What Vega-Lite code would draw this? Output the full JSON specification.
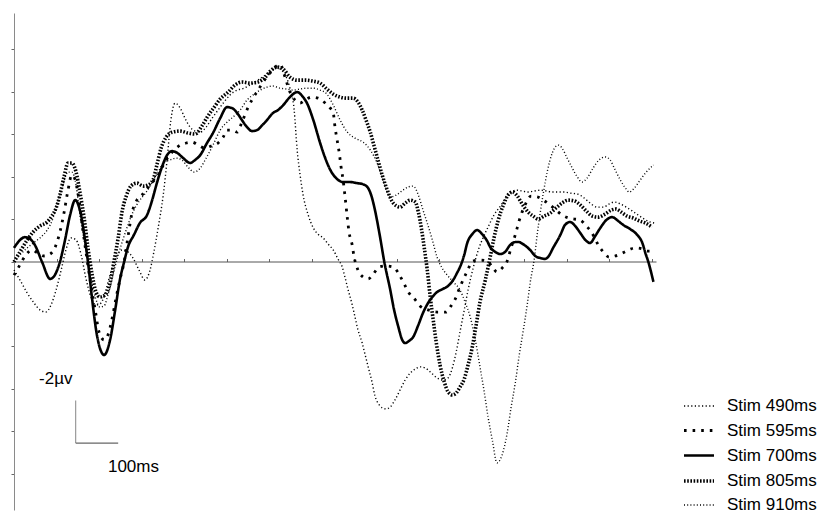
{
  "$schema": "https://vega.github.io/schema/vega-lite/v6.json",
  "width": 642,
  "height": 497,
  "autosize": {"type": "none"},
  "padding": {"left": 14, "top": 13, "right": 163, "bottom": 4},
  "background": "white",
  "config": {
    "view": {"stroke": null},
    "font": "Liberation Sans",
    "text": {"font": "Liberation Sans"}
  },
  "datasets": {
    "curves": [
      {"s":"Stim 700ms","t":0,"v":-0.64},{"s":"Stim 700ms","t":14,"v":-1.01},{"s":"Stim 700ms","t":26,"v":-1.15},{"s":"Stim 700ms","t":38,"v":-1.06},{"s":"Stim 700ms","t":49,"v":-0.78},{"s":"Stim 700ms","t":66,"v":0.02},{"s":"Stim 700ms","t":85,"v":0.82},{"s":"Stim 700ms","t":96,"v":0.64},{"s":"Stim 700ms","t":108,"v":0.02},{"s":"Stim 700ms","t":120,"v":-1.01},{"s":"Stim 700ms","t":132,"v":-2.19},{"s":"Stim 700ms","t":144,"v":-2.89},{"s":"Stim 700ms","t":155,"v":-2.42},{"s":"Stim 700ms","t":167,"v":-1.01},{"s":"Stim 700ms","t":174,"v":0.02},{"s":"Stim 700ms","t":184,"v":1.81},{"s":"Stim 700ms","t":195,"v":3.46},{"s":"Stim 700ms","t":212,"v":4.40},{"s":"Stim 700ms","t":226,"v":3.69},{"s":"Stim 700ms","t":238,"v":2.28},{"s":"Stim 700ms","t":249,"v":0.87},{"s":"Stim 700ms","t":259,"v":0.02},{"s":"Stim 700ms","t":268,"v":-0.68},{"s":"Stim 700ms","t":282,"v":-1.25},{"s":"Stim 700ms","t":296,"v":-1.81},{"s":"Stim 700ms","t":313,"v":-2.19},{"s":"Stim 700ms","t":325,"v":-2.89},{"s":"Stim 700ms","t":336,"v":-3.69},{"s":"Stim 700ms","t":348,"v":-4.45},{"s":"Stim 700ms","t":360,"v":-5.01},{"s":"Stim 700ms","t":372,"v":-5.20},{"s":"Stim 700ms","t":384,"v":-5.11},{"s":"Stim 700ms","t":398,"v":-4.87},{"s":"Stim 700ms","t":414,"v":-4.64},{"s":"Stim 700ms","t":426,"v":-4.78},{"s":"Stim 700ms","t":438,"v":-5.01},{"s":"Stim 700ms","t":454,"v":-5.58},{"s":"Stim 700ms","t":468,"v":-6.05},{"s":"Stim 700ms","t":485,"v":-6.75},{"s":"Stim 700ms","t":501,"v":-7.27},{"s":"Stim 700ms","t":513,"v":-7.22},{"s":"Stim 700ms","t":525,"v":-6.99},{"s":"Stim 700ms","t":536,"v":-6.66},{"s":"Stim 700ms","t":548,"v":-6.33},{"s":"Stim 700ms","t":560,"v":-6.14},{"s":"Stim 700ms","t":572,"v":-6.19},{"s":"Stim 700ms","t":584,"v":-6.42},{"s":"Stim 700ms","t":595,"v":-6.66},{"s":"Stim 700ms","t":609,"v":-6.99},{"s":"Stim 700ms","t":621,"v":-7.13},{"s":"Stim 700ms","t":633,"v":-7.36},{"s":"Stim 700ms","t":649,"v":-7.74},{"s":"Stim 700ms","t":666,"v":-7.98},{"s":"Stim 700ms","t":678,"v":-7.79},{"s":"Stim 700ms","t":689,"v":-7.46},{"s":"Stim 700ms","t":704,"v":-6.66},{"s":"Stim 700ms","t":720,"v":-5.58},{"s":"Stim 700ms","t":732,"v":-4.87},{"s":"Stim 700ms","t":744,"v":-4.31},{"s":"Stim 700ms","t":760,"v":-3.88},{"s":"Stim 700ms","t":774,"v":-3.74},{"s":"Stim 700ms","t":791,"v":-3.74},{"s":"Stim 700ms","t":807,"v":-3.69},{"s":"Stim 700ms","t":819,"v":-3.65},{"s":"Stim 700ms","t":831,"v":-3.51},{"s":"Stim 700ms","t":840,"v":-3.13},{"s":"Stim 700ms","t":849,"v":-2.42},{"s":"Stim 700ms","t":861,"v":-1.15},{"s":"Stim 700ms","t":871,"v":0.02},{"s":"Stim 700ms","t":885,"v":1.34},{"s":"Stim 700ms","t":894,"v":2.28},{"s":"Stim 700ms","t":904,"v":3.08},{"s":"Stim 700ms","t":913,"v":3.69},{"s":"Stim 700ms","t":920,"v":3.84},{"s":"Stim 700ms","t":929,"v":3.74},{"s":"Stim 700ms","t":939,"v":3.55},{"s":"Stim 700ms","t":951,"v":2.99},{"s":"Stim 700ms","t":962,"v":2.42},{"s":"Stim 700ms","t":974,"v":1.95},{"s":"Stim 700ms","t":984,"v":1.67},{"s":"Stim 700ms","t":995,"v":1.44},{"s":"Stim 700ms","t":1009,"v":1.29},{"s":"Stim 700ms","t":1021,"v":1.15},{"s":"Stim 700ms","t":1033,"v":0.87},{"s":"Stim 700ms","t":1042,"v":0.54},{"s":"Stim 700ms","t":1049,"v":0.26},{"s":"Stim 700ms","t":1059,"v":-0.31},{"s":"Stim 700ms","t":1066,"v":-0.87},{"s":"Stim 700ms","t":1078,"v":-1.29},{"s":"Stim 700ms","t":1089,"v":-1.48},{"s":"Stim 700ms","t":1101,"v":-1.29},{"s":"Stim 700ms","t":1113,"v":-0.96},{"s":"Stim 700ms","t":1120,"v":-0.68},{"s":"Stim 700ms","t":1132,"v":-0.45},{"s":"Stim 700ms","t":1144,"v":-0.35},{"s":"Stim 700ms","t":1155,"v":-0.45},{"s":"Stim 700ms","t":1167,"v":-0.78},{"s":"Stim 700ms","t":1179,"v":-0.92},{"s":"Stim 700ms","t":1186,"v":-0.92},{"s":"Stim 700ms","t":1200,"v":-0.78},{"s":"Stim 700ms","t":1214,"v":-0.54},{"s":"Stim 700ms","t":1226,"v":-0.26},{"s":"Stim 700ms","t":1238,"v":-0.16},{"s":"Stim 700ms","t":1249,"v":-0.12},{"s":"Stim 700ms","t":1256,"v":-0.21},{"s":"Stim 700ms","t":1268,"v":-0.64},{"s":"Stim 700ms","t":1285,"v":-1.25},{"s":"Stim 700ms","t":1296,"v":-1.72},{"s":"Stim 700ms","t":1308,"v":-1.86},{"s":"Stim 700ms","t":1320,"v":-1.67},{"s":"Stim 700ms","t":1332,"v":-1.34},{"s":"Stim 700ms","t":1344,"v":-1.01},{"s":"Stim 700ms","t":1355,"v":-0.87},{"s":"Stim 700ms","t":1367,"v":-1.20},{"s":"Stim 700ms","t":1379,"v":-1.58},{"s":"Stim 700ms","t":1393,"v":-1.95},{"s":"Stim 700ms","t":1407,"v":-2.09},{"s":"Stim 700ms","t":1421,"v":-1.91},{"s":"Stim 700ms","t":1433,"v":-1.72},{"s":"Stim 700ms","t":1449,"v":-1.53},{"s":"Stim 700ms","t":1466,"v":-1.25},{"s":"Stim 700ms","t":1478,"v":-0.87},{"s":"Stim 700ms","t":1485,"v":-0.40},{"s":"Stim 700ms","t":1492,"v":0.02},{"s":"Stim 700ms","t":1496,"v":0.31},{"s":"Stim 700ms","t":1504,"v":0.96},

      {"s":"Stim 595ms","t":0,"v":0.64},{"s":"Stim 595ms","t":14,"v":0.16},{"s":"Stim 595ms","t":28,"v":-0.31},{"s":"Stim 595ms","t":42,"v":-0.54},{"s":"Stim 595ms","t":56,"v":-0.40},{"s":"Stim 595ms","t":71,"v":-0.26},{"s":"Stim 595ms","t":85,"v":-0.35},{"s":"Stim 595ms","t":96,"v":-0.64},{"s":"Stim 595ms","t":108,"v":-1.39},{"s":"Stim 595ms","t":118,"v":-2.33},{"s":"Stim 595ms","t":127,"v":-3.36},{"s":"Stim 595ms","t":136,"v":-4.07},{"s":"Stim 595ms","t":144,"v":-3.84},{"s":"Stim 595ms","t":153,"v":-2.89},{"s":"Stim 595ms","t":162,"v":-1.48},{"s":"Stim 595ms","t":172,"v":-0.07},{"s":"Stim 595ms","t":181,"v":1.11},{"s":"Stim 595ms","t":191,"v":2.28},{"s":"Stim 595ms","t":200,"v":3.32},{"s":"Stim 595ms","t":212,"v":3.69},{"s":"Stim 595ms","t":221,"v":3.46},{"s":"Stim 595ms","t":231,"v":2.66},{"s":"Stim 595ms","t":240,"v":1.72},{"s":"Stim 595ms","t":249,"v":0.87},{"s":"Stim 595ms","t":259,"v":0.02},{"s":"Stim 595ms","t":268,"v":-1.15},{"s":"Stim 595ms","t":278,"v":-2.33},{"s":"Stim 595ms","t":289,"v":-2.89},{"s":"Stim 595ms","t":301,"v":-3.13},{"s":"Stim 595ms","t":320,"v":-3.60},{"s":"Stim 595ms","t":339,"v":-4.07},{"s":"Stim 595ms","t":355,"v":-4.68},{"s":"Stim 595ms","t":372,"v":-5.15},{"s":"Stim 595ms","t":388,"v":-5.44},{"s":"Stim 595ms","t":405,"v":-5.58},{"s":"Stim 595ms","t":419,"v":-5.62},{"s":"Stim 595ms","t":433,"v":-5.48},{"s":"Stim 595ms","t":449,"v":-5.34},{"s":"Stim 595ms","t":464,"v":-5.44},{"s":"Stim 595ms","t":480,"v":-5.58},{"s":"Stim 595ms","t":492,"v":-5.86},{"s":"Stim 595ms","t":501,"v":-6.19},{"s":"Stim 595ms","t":513,"v":-6.19},{"s":"Stim 595ms","t":525,"v":-6.09},{"s":"Stim 595ms","t":536,"v":-6.56},{"s":"Stim 595ms","t":551,"v":-7.27},{"s":"Stim 595ms","t":562,"v":-7.69},{"s":"Stim 595ms","t":574,"v":-8.07},{"s":"Stim 595ms","t":586,"v":-8.45},{"s":"Stim 595ms","t":602,"v":-8.87},{"s":"Stim 595ms","t":614,"v":-9.15},{"s":"Stim 595ms","t":626,"v":-9.29},{"s":"Stim 595ms","t":638,"v":-8.64},{"s":"Stim 595ms","t":649,"v":-7.98},{"s":"Stim 595ms","t":661,"v":-7.60},{"s":"Stim 595ms","t":673,"v":-7.46},{"s":"Stim 595ms","t":685,"v":-7.60},{"s":"Stim 595ms","t":699,"v":-7.74},{"s":"Stim 595ms","t":715,"v":-7.69},{"s":"Stim 595ms","t":732,"v":-7.46},{"s":"Stim 595ms","t":744,"v":-7.22},{"s":"Stim 595ms","t":751,"v":-6.99},{"s":"Stim 595ms","t":755,"v":-6.33},{"s":"Stim 595ms","t":760,"v":-5.72},{"s":"Stim 595ms","t":765,"v":-5.11},{"s":"Stim 595ms","t":769,"v":-4.49},{"s":"Stim 595ms","t":774,"v":-3.84},{"s":"Stim 595ms","t":779,"v":-2.99},{"s":"Stim 595ms","t":784,"v":-2.05},{"s":"Stim 595ms","t":788,"v":-1.39},{"s":"Stim 595ms","t":795,"v":-0.82},{"s":"Stim 595ms","t":800,"v":-0.21},{"s":"Stim 595ms","t":809,"v":0.40},{"s":"Stim 595ms","t":821,"v":0.73},{"s":"Stim 595ms","t":833,"v":0.82},{"s":"Stim 595ms","t":845,"v":0.59},{"s":"Stim 595ms","t":859,"v":0.26},{"s":"Stim 595ms","t":875,"v":0.21},{"s":"Stim 595ms","t":892,"v":0.26},{"s":"Stim 595ms","t":904,"v":0.54},{"s":"Stim 595ms","t":913,"v":0.87},{"s":"Stim 595ms","t":929,"v":1.48},{"s":"Stim 595ms","t":944,"v":1.81},{"s":"Stim 595ms","t":955,"v":2.09},{"s":"Stim 595ms","t":974,"v":2.28},{"s":"Stim 595ms","t":995,"v":2.38},{"s":"Stim 595ms","t":1016,"v":2.38},{"s":"Stim 595ms","t":1028,"v":2.09},{"s":"Stim 595ms","t":1038,"v":1.76},{"s":"Stim 595ms","t":1049,"v":1.20},{"s":"Stim 595ms","t":1064,"v":0.54},{"s":"Stim 595ms","t":1080,"v":-0.02},{"s":"Stim 595ms","t":1096,"v":-0.07},{"s":"Stim 595ms","t":1113,"v":-0.02},{"s":"Stim 595ms","t":1125,"v":0.26},{"s":"Stim 595ms","t":1136,"v":0.49},{"s":"Stim 595ms","t":1148,"v":0.31},{"s":"Stim 595ms","t":1160,"v":-0.02},{"s":"Stim 595ms","t":1169,"v":-0.64},{"s":"Stim 595ms","t":1179,"v":-1.25},{"s":"Stim 595ms","t":1188,"v":-1.91},{"s":"Stim 595ms","t":1202,"v":-2.66},{"s":"Stim 595ms","t":1216,"v":-3.08},{"s":"Stim 595ms","t":1231,"v":-3.04},{"s":"Stim 595ms","t":1245,"v":-2.89},{"s":"Stim 595ms","t":1261,"v":-2.66},{"s":"Stim 595ms","t":1275,"v":-2.42},{"s":"Stim 595ms","t":1289,"v":-2.19},{"s":"Stim 595ms","t":1304,"v":-2.05},{"s":"Stim 595ms","t":1318,"v":-2.00},{"s":"Stim 595ms","t":1332,"v":-1.95},{"s":"Stim 595ms","t":1346,"v":-1.67},{"s":"Stim 595ms","t":1358,"v":-1.39},{"s":"Stim 595ms","t":1367,"v":-1.06},{"s":"Stim 595ms","t":1374,"v":-0.78},{"s":"Stim 595ms","t":1386,"v":-0.45},{"s":"Stim 595ms","t":1400,"v":-0.21},{"s":"Stim 595ms","t":1414,"v":-0.26},{"s":"Stim 595ms","t":1431,"v":-0.40},{"s":"Stim 595ms","t":1445,"v":-0.54},{"s":"Stim 595ms","t":1461,"v":-0.64},{"s":"Stim 595ms","t":1478,"v":-0.59},{"s":"Stim 595ms","t":1489,"v":-0.49},{"s":"Stim 595ms","t":1501,"v":-0.49},

      {"s":"Stim 805ms","t":0,"v":0.02},{"s":"Stim 805ms","t":14,"v":-0.45},{"s":"Stim 805ms","t":31,"v":-1.01},{"s":"Stim 805ms","t":45,"v":-1.39},{"s":"Stim 805ms","t":61,"v":-1.67},{"s":"Stim 805ms","t":78,"v":-1.86},{"s":"Stim 805ms","t":89,"v":-2.14},{"s":"Stim 805ms","t":99,"v":-2.52},{"s":"Stim 805ms","t":108,"v":-3.13},{"s":"Stim 805ms","t":118,"v":-4.02},{"s":"Stim 805ms","t":127,"v":-4.64},{"s":"Stim 805ms","t":136,"v":-4.64},{"s":"Stim 805ms","t":146,"v":-4.21},{"s":"Stim 805ms","t":155,"v":-3.27},{"s":"Stim 805ms","t":165,"v":-2.05},{"s":"Stim 805ms","t":174,"v":-0.64},{"s":"Stim 805ms","t":184,"v":0.64},{"s":"Stim 805ms","t":193,"v":1.44},{"s":"Stim 805ms","t":202,"v":1.67},{"s":"Stim 805ms","t":214,"v":1.58},{"s":"Stim 805ms","t":226,"v":1.01},{"s":"Stim 805ms","t":235,"v":0.02},{"s":"Stim 805ms","t":245,"v":-1.11},{"s":"Stim 805ms","t":254,"v":-2.33},{"s":"Stim 805ms","t":264,"v":-3.08},{"s":"Stim 805ms","t":275,"v":-3.55},{"s":"Stim 805ms","t":289,"v":-3.69},{"s":"Stim 805ms","t":304,"v":-3.55},{"s":"Stim 805ms","t":315,"v":-3.60},{"s":"Stim 805ms","t":327,"v":-3.84},{"s":"Stim 805ms","t":336,"v":-4.54},{"s":"Stim 805ms","t":346,"v":-5.34},{"s":"Stim 805ms","t":358,"v":-5.86},{"s":"Stim 805ms","t":372,"v":-6.09},{"s":"Stim 805ms","t":391,"v":-6.14},{"s":"Stim 805ms","t":409,"v":-6.05},{"s":"Stim 805ms","t":426,"v":-6.00},{"s":"Stim 805ms","t":442,"v":-6.38},{"s":"Stim 805ms","t":456,"v":-6.85},{"s":"Stim 805ms","t":471,"v":-7.27},{"s":"Stim 805ms","t":485,"v":-7.65},{"s":"Stim 805ms","t":504,"v":-7.98},{"s":"Stim 805ms","t":520,"v":-8.31},{"s":"Stim 805ms","t":536,"v":-8.45},{"s":"Stim 805ms","t":555,"v":-8.40},{"s":"Stim 805ms","t":574,"v":-8.45},{"s":"Stim 805ms","t":591,"v":-8.68},{"s":"Stim 805ms","t":605,"v":-9.01},{"s":"Stim 805ms","t":619,"v":-9.15},{"s":"Stim 805ms","t":633,"v":-9.06},{"s":"Stim 805ms","t":649,"v":-8.68},{"s":"Stim 805ms","t":666,"v":-8.54},{"s":"Stim 805ms","t":685,"v":-8.54},{"s":"Stim 805ms","t":704,"v":-8.49},{"s":"Stim 805ms","t":720,"v":-8.40},{"s":"Stim 805ms","t":736,"v":-8.12},{"s":"Stim 805ms","t":751,"v":-7.88},{"s":"Stim 805ms","t":767,"v":-7.74},{"s":"Stim 805ms","t":784,"v":-7.69},{"s":"Stim 805ms","t":798,"v":-7.69},{"s":"Stim 805ms","t":809,"v":-7.51},{"s":"Stim 805ms","t":819,"v":-7.13},{"s":"Stim 805ms","t":828,"v":-6.66},{"s":"Stim 805ms","t":838,"v":-6.09},{"s":"Stim 805ms","t":847,"v":-5.44},{"s":"Stim 805ms","t":856,"v":-4.78},{"s":"Stim 805ms","t":866,"v":-4.07},{"s":"Stim 805ms","t":878,"v":-3.36},{"s":"Stim 805ms","t":892,"v":-2.75},{"s":"Stim 805ms","t":908,"v":-2.56},{"s":"Stim 805ms","t":920,"v":-2.75},{"s":"Stim 805ms","t":932,"v":-2.89},{"s":"Stim 805ms","t":944,"v":-2.80},{"s":"Stim 805ms","t":951,"v":-2.33},{"s":"Stim 805ms","t":958,"v":-1.58},{"s":"Stim 805ms","t":965,"v":-0.64},{"s":"Stim 805ms","t":972,"v":0.40},{"s":"Stim 805ms","t":979,"v":1.67},{"s":"Stim 805ms","t":986,"v":2.75},{"s":"Stim 805ms","t":993,"v":3.79},{"s":"Stim 805ms","t":1002,"v":4.87},{"s":"Stim 805ms","t":1012,"v":5.67},{"s":"Stim 805ms","t":1021,"v":6.14},{"s":"Stim 805ms","t":1031,"v":6.28},{"s":"Stim 805ms","t":1040,"v":6.19},{"s":"Stim 805ms","t":1049,"v":5.91},{"s":"Stim 805ms","t":1059,"v":5.53},{"s":"Stim 805ms","t":1068,"v":4.87},{"s":"Stim 805ms","t":1078,"v":4.02},{"s":"Stim 805ms","t":1087,"v":2.99},{"s":"Stim 805ms","t":1096,"v":1.91},{"s":"Stim 805ms","t":1108,"v":0.92},{"s":"Stim 805ms","t":1120,"v":-0.21},{"s":"Stim 805ms","t":1129,"v":-1.11},{"s":"Stim 805ms","t":1139,"v":-1.95},{"s":"Stim 805ms","t":1151,"v":-2.66},{"s":"Stim 805ms","t":1162,"v":-3.13},{"s":"Stim 805ms","t":1172,"v":-3.27},{"s":"Stim 805ms","t":1184,"v":-3.08},{"s":"Stim 805ms","t":1195,"v":-2.71},{"s":"Stim 805ms","t":1209,"v":-2.33},{"s":"Stim 805ms","t":1221,"v":-2.14},{"s":"Stim 805ms","t":1233,"v":-2.00},{"s":"Stim 805ms","t":1247,"v":-2.14},{"s":"Stim 805ms","t":1261,"v":-2.28},{"s":"Stim 805ms","t":1275,"v":-2.52},{"s":"Stim 805ms","t":1289,"v":-2.75},{"s":"Stim 805ms","t":1304,"v":-2.89},{"s":"Stim 805ms","t":1318,"v":-2.85},{"s":"Stim 805ms","t":1332,"v":-2.66},{"s":"Stim 805ms","t":1346,"v":-2.38},{"s":"Stim 805ms","t":1360,"v":-2.14},{"s":"Stim 805ms","t":1374,"v":-2.09},{"s":"Stim 805ms","t":1391,"v":-2.24},{"s":"Stim 805ms","t":1405,"v":-2.42},{"s":"Stim 805ms","t":1416,"v":-2.47},{"s":"Stim 805ms","t":1428,"v":-2.33},{"s":"Stim 805ms","t":1442,"v":-2.14},{"s":"Stim 805ms","t":1456,"v":-2.05},{"s":"Stim 805ms","t":1471,"v":-1.91},{"s":"Stim 805ms","t":1485,"v":-1.81},{"s":"Stim 805ms","t":1501,"v":-1.62},

      {"s":"Stim 490ms","t":0,"v":0.40},{"s":"Stim 490ms","t":14,"v":0.87},{"s":"Stim 490ms","t":31,"v":1.48},{"s":"Stim 490ms","t":47,"v":1.95},{"s":"Stim 490ms","t":61,"v":2.28},{"s":"Stim 490ms","t":75,"v":2.38},{"s":"Stim 490ms","t":87,"v":2.05},{"s":"Stim 490ms","t":99,"v":1.34},{"s":"Stim 490ms","t":111,"v":0.40},{"s":"Stim 490ms","t":122,"v":-0.54},{"s":"Stim 490ms","t":134,"v":-1.11},{"s":"Stim 490ms","t":146,"v":-1.01},{"s":"Stim 490ms","t":158,"v":-0.31},{"s":"Stim 490ms","t":169,"v":0.78},{"s":"Stim 490ms","t":181,"v":1.67},{"s":"Stim 490ms","t":193,"v":2.05},{"s":"Stim 490ms","t":205,"v":1.95},{"s":"Stim 490ms","t":216,"v":1.34},{"s":"Stim 490ms","t":228,"v":0.49},{"s":"Stim 490ms","t":240,"v":-0.16},{"s":"Stim 490ms","t":254,"v":-0.54},{"s":"Stim 490ms","t":268,"v":-0.45},{"s":"Stim 490ms","t":280,"v":-0.16},{"s":"Stim 490ms","t":294,"v":0.40},{"s":"Stim 490ms","t":308,"v":0.87},{"s":"Stim 490ms","t":320,"v":0.40},{"s":"Stim 490ms","t":329,"v":-0.45},{"s":"Stim 490ms","t":339,"v":-1.58},{"s":"Stim 490ms","t":351,"v":-3.13},{"s":"Stim 490ms","t":360,"v":-4.78},{"s":"Stim 490ms","t":369,"v":-6.66},{"s":"Stim 490ms","t":379,"v":-7.46},{"s":"Stim 490ms","t":391,"v":-7.22},{"s":"Stim 490ms","t":402,"v":-6.75},{"s":"Stim 490ms","t":414,"v":-6.33},{"s":"Stim 490ms","t":426,"v":-6.14},{"s":"Stim 490ms","t":438,"v":-6.09},{"s":"Stim 490ms","t":452,"v":-6.33},{"s":"Stim 490ms","t":466,"v":-6.75},{"s":"Stim 490ms","t":480,"v":-7.13},{"s":"Stim 490ms","t":494,"v":-7.51},{"s":"Stim 490ms","t":508,"v":-7.84},{"s":"Stim 490ms","t":525,"v":-8.07},{"s":"Stim 490ms","t":541,"v":-8.16},{"s":"Stim 490ms","t":555,"v":-8.31},{"s":"Stim 490ms","t":574,"v":-8.54},{"s":"Stim 490ms","t":591,"v":-8.78},{"s":"Stim 490ms","t":602,"v":-8.92},{"s":"Stim 490ms","t":619,"v":-9.11},{"s":"Stim 490ms","t":635,"v":-8.87},{"s":"Stim 490ms","t":649,"v":-8.16},{"s":"Stim 490ms","t":659,"v":-7.13},{"s":"Stim 490ms","t":666,"v":-5.25},{"s":"Stim 490ms","t":673,"v":-4.07},{"s":"Stim 490ms","t":680,"v":-3.13},{"s":"Stim 490ms","t":692,"v":-2.19},{"s":"Stim 490ms","t":704,"v":-1.58},{"s":"Stim 490ms","t":715,"v":-1.29},{"s":"Stim 490ms","t":727,"v":-1.11},{"s":"Stim 490ms","t":739,"v":-0.82},{"s":"Stim 490ms","t":751,"v":-0.54},{"s":"Stim 490ms","t":762,"v":-0.12},{"s":"Stim 490ms","t":772,"v":0.26},{"s":"Stim 490ms","t":779,"v":0.78},{"s":"Stim 490ms","t":786,"v":1.34},{"s":"Stim 490ms","t":795,"v":2.00},{"s":"Stim 490ms","t":802,"v":2.61},{"s":"Stim 490ms","t":809,"v":3.22},{"s":"Stim 490ms","t":819,"v":3.84},{"s":"Stim 490ms","t":826,"v":4.40},{"s":"Stim 490ms","t":833,"v":4.96},{"s":"Stim 490ms","t":842,"v":5.67},{"s":"Stim 490ms","t":849,"v":6.33},{"s":"Stim 490ms","t":859,"v":6.75},{"s":"Stim 490ms","t":866,"v":6.89},{"s":"Stim 490ms","t":875,"v":6.94},{"s":"Stim 490ms","t":885,"v":6.85},{"s":"Stim 490ms","t":896,"v":6.52},{"s":"Stim 490ms","t":908,"v":6.05},{"s":"Stim 490ms","t":920,"v":5.58},{"s":"Stim 490ms","t":932,"v":5.25},{"s":"Stim 490ms","t":944,"v":5.06},{"s":"Stim 490ms","t":955,"v":4.96},{"s":"Stim 490ms","t":967,"v":5.01},{"s":"Stim 490ms","t":979,"v":5.20},{"s":"Stim 490ms","t":995,"v":5.48},{"s":"Stim 490ms","t":1009,"v":5.58},{"s":"Stim 490ms","t":1021,"v":5.48},{"s":"Stim 490ms","t":1031,"v":5.01},{"s":"Stim 490ms","t":1040,"v":4.26},{"s":"Stim 490ms","t":1049,"v":3.32},{"s":"Stim 490ms","t":1059,"v":2.28},{"s":"Stim 490ms","t":1068,"v":1.34},{"s":"Stim 490ms","t":1080,"v":0.31},{"s":"Stim 490ms","t":1092,"v":-0.54},{"s":"Stim 490ms","t":1104,"v":-1.15},{"s":"Stim 490ms","t":1115,"v":-1.62},{"s":"Stim 490ms","t":1129,"v":-2.19},{"s":"Stim 490ms","t":1144,"v":-2.61},{"s":"Stim 490ms","t":1155,"v":-2.94},{"s":"Stim 490ms","t":1167,"v":-3.22},{"s":"Stim 490ms","t":1181,"v":-3.36},{"s":"Stim 490ms","t":1195,"v":-3.32},{"s":"Stim 490ms","t":1209,"v":-3.27},{"s":"Stim 490ms","t":1224,"v":-3.32},{"s":"Stim 490ms","t":1238,"v":-3.36},{"s":"Stim 490ms","t":1252,"v":-3.32},{"s":"Stim 490ms","t":1266,"v":-3.27},{"s":"Stim 490ms","t":1280,"v":-3.27},{"s":"Stim 490ms","t":1294,"v":-3.27},{"s":"Stim 490ms","t":1308,"v":-3.22},{"s":"Stim 490ms","t":1325,"v":-3.18},{"s":"Stim 490ms","t":1341,"v":-2.99},{"s":"Stim 490ms","t":1355,"v":-2.75},{"s":"Stim 490ms","t":1372,"v":-2.56},{"s":"Stim 490ms","t":1386,"v":-2.56},{"s":"Stim 490ms","t":1400,"v":-2.71},{"s":"Stim 490ms","t":1412,"v":-2.80},{"s":"Stim 490ms","t":1426,"v":-2.71},{"s":"Stim 490ms","t":1440,"v":-2.56},{"s":"Stim 490ms","t":1454,"v":-2.38},{"s":"Stim 490ms","t":1468,"v":-2.19},{"s":"Stim 490ms","t":1482,"v":-2.00},{"s":"Stim 490ms","t":1496,"v":-1.86},{"s":"Stim 490ms","t":1506,"v":-1.81},

      {"s":"Stim 910ms","t":0,"v":0.02},{"s":"Stim 910ms","t":14,"v":-0.31},{"s":"Stim 910ms","t":31,"v":-0.64},{"s":"Stim 910ms","t":45,"v":-0.87},{"s":"Stim 910ms","t":61,"v":-1.11},{"s":"Stim 910ms","t":78,"v":-1.48},{"s":"Stim 910ms","t":92,"v":-2.05},{"s":"Stim 910ms","t":104,"v":-2.89},{"s":"Stim 910ms","t":115,"v":-3.60},{"s":"Stim 910ms","t":127,"v":-4.21},{"s":"Stim 910ms","t":136,"v":-4.21},{"s":"Stim 910ms","t":146,"v":-3.60},{"s":"Stim 910ms","t":155,"v":-2.19},{"s":"Stim 910ms","t":167,"v":-0.78},{"s":"Stim 910ms","t":179,"v":0.64},{"s":"Stim 910ms","t":191,"v":1.67},{"s":"Stim 910ms","t":202,"v":2.14},{"s":"Stim 910ms","t":212,"v":2.09},{"s":"Stim 910ms","t":221,"v":1.58},{"s":"Stim 910ms","t":233,"v":0.64},{"s":"Stim 910ms","t":245,"v":-0.31},{"s":"Stim 910ms","t":256,"v":-1.01},{"s":"Stim 910ms","t":268,"v":-1.72},{"s":"Stim 910ms","t":282,"v":-2.42},{"s":"Stim 910ms","t":296,"v":-2.89},{"s":"Stim 910ms","t":311,"v":-3.27},{"s":"Stim 910ms","t":325,"v":-3.74},{"s":"Stim 910ms","t":339,"v":-4.21},{"s":"Stim 910ms","t":353,"v":-4.68},{"s":"Stim 910ms","t":367,"v":-4.78},{"s":"Stim 910ms","t":381,"v":-4.87},{"s":"Stim 910ms","t":395,"v":-4.78},{"s":"Stim 910ms","t":409,"v":-4.45},{"s":"Stim 910ms","t":424,"v":-4.21},{"s":"Stim 910ms","t":438,"v":-4.40},{"s":"Stim 910ms","t":452,"v":-4.87},{"s":"Stim 910ms","t":468,"v":-5.48},{"s":"Stim 910ms","t":485,"v":-6.19},{"s":"Stim 910ms","t":501,"v":-6.56},{"s":"Stim 910ms","t":515,"v":-6.80},{"s":"Stim 910ms","t":532,"v":-7.13},{"s":"Stim 910ms","t":548,"v":-7.60},{"s":"Stim 910ms","t":565,"v":-7.88},{"s":"Stim 910ms","t":579,"v":-8.07},{"s":"Stim 910ms","t":595,"v":-8.21},{"s":"Stim 910ms","t":609,"v":-8.26},{"s":"Stim 910ms","t":626,"v":-8.16},{"s":"Stim 910ms","t":642,"v":-8.12},{"s":"Stim 910ms","t":656,"v":-8.07},{"s":"Stim 910ms","t":673,"v":-8.12},{"s":"Stim 910ms","t":687,"v":-8.16},{"s":"Stim 910ms","t":704,"v":-8.16},{"s":"Stim 910ms","t":720,"v":-8.07},{"s":"Stim 910ms","t":736,"v":-7.88},{"s":"Stim 910ms","t":751,"v":-7.36},{"s":"Stim 910ms","t":767,"v":-6.66},{"s":"Stim 910ms","t":784,"v":-6.09},{"s":"Stim 910ms","t":802,"v":-5.81},{"s":"Stim 910ms","t":821,"v":-5.62},{"s":"Stim 910ms","t":838,"v":-5.25},{"s":"Stim 910ms","t":854,"v":-4.64},{"s":"Stim 910ms","t":868,"v":-3.84},{"s":"Stim 910ms","t":885,"v":-3.04},{"s":"Stim 910ms","t":899,"v":-3.13},{"s":"Stim 910ms","t":915,"v":-3.36},{"s":"Stim 910ms","t":927,"v":-3.51},{"s":"Stim 910ms","t":939,"v":-3.55},{"s":"Stim 910ms","t":951,"v":-3.13},{"s":"Stim 910ms","t":962,"v":-2.42},{"s":"Stim 910ms","t":972,"v":-1.81},{"s":"Stim 910ms","t":984,"v":-1.01},{"s":"Stim 910ms","t":995,"v":-0.21},{"s":"Stim 910ms","t":1007,"v":0.31},{"s":"Stim 910ms","t":1019,"v":0.64},{"s":"Stim 910ms","t":1033,"v":0.96},{"s":"Stim 910ms","t":1049,"v":1.34},{"s":"Stim 910ms","t":1061,"v":1.91},{"s":"Stim 910ms","t":1073,"v":2.61},{"s":"Stim 910ms","t":1085,"v":3.69},{"s":"Stim 910ms","t":1096,"v":4.96},{"s":"Stim 910ms","t":1106,"v":6.14},{"s":"Stim 910ms","t":1115,"v":7.32},{"s":"Stim 910ms","t":1125,"v":8.40},{"s":"Stim 910ms","t":1136,"v":9.48},{"s":"Stim 910ms","t":1148,"v":9.11},{"s":"Stim 910ms","t":1160,"v":8.07},{"s":"Stim 910ms","t":1169,"v":6.89},{"s":"Stim 910ms","t":1179,"v":5.72},{"s":"Stim 910ms","t":1188,"v":4.45},{"s":"Stim 910ms","t":1198,"v":3.22},{"s":"Stim 910ms","t":1207,"v":2.05},{"s":"Stim 910ms","t":1214,"v":1.01},{"s":"Stim 910ms","t":1224,"v":-0.16},{"s":"Stim 910ms","t":1231,"v":-1.34},{"s":"Stim 910ms","t":1238,"v":-2.33},{"s":"Stim 910ms","t":1245,"v":-3.22},{"s":"Stim 910ms","t":1254,"v":-4.21},{"s":"Stim 910ms","t":1266,"v":-5.11},{"s":"Stim 910ms","t":1273,"v":-5.39},{"s":"Stim 910ms","t":1280,"v":-5.48},{"s":"Stim 910ms","t":1289,"v":-5.34},{"s":"Stim 910ms","t":1301,"v":-4.87},{"s":"Stim 910ms","t":1313,"v":-4.40},{"s":"Stim 910ms","t":1325,"v":-3.98},{"s":"Stim 910ms","t":1336,"v":-3.74},{"s":"Stim 910ms","t":1348,"v":-3.93},{"s":"Stim 910ms","t":1362,"v":-4.40},{"s":"Stim 910ms","t":1376,"v":-4.78},{"s":"Stim 910ms","t":1391,"v":-4.92},{"s":"Stim 910ms","t":1402,"v":-4.78},{"s":"Stim 910ms","t":1414,"v":-4.31},{"s":"Stim 910ms","t":1426,"v":-3.84},{"s":"Stim 910ms","t":1438,"v":-3.46},{"s":"Stim 910ms","t":1447,"v":-3.27},{"s":"Stim 910ms","t":1459,"v":-3.46},{"s":"Stim 910ms","t":1473,"v":-3.84},{"s":"Stim 910ms","t":1487,"v":-4.21},{"s":"Stim 910ms","t":1504,"v":-4.54}
    ],
    "scalebar": [
      {"part": "amplitude", "t": 145, "t2": 145, "v": 6.55, "v2": 8.55},
      {"part": "time", "t": 145, "t2": 245, "v": 8.55, "v2": 8.55}
    ],
    "scalelabels": [
      {"label": "-2µv", "t": 59, "v": 5.55},
      {"label": "100ms", "t": 221, "v": 9.67}
    ]
  },
  "layer": [
    {
      "data": {"name": "curves"},
      "mark": {"type": "line", "interpolate": "monotone", "stroke": "black", "strokeJoin": "round"},
      "encoding": {
        "x": {
          "field": "t", "type": "quantitative",
          "scale": {"domain": [0, 1510], "nice": false, "zero": false},
          "axis": {
            "orient": "top", "offset": -248.5, "title": null, "labels": false,
            "values": [0, 100, 200, 300, 400, 500, 600, 700, 800, 900, 1000, 1100, 1200, 1300, 1400, 1500],
            "tickSize": 3, "tickColor": "#666", "domainColor": "#555", "domainWidth": 1, "grid": false
          }
        },
        "y": {
          "field": "v", "type": "quantitative",
          "scale": {"domain": [-11.7, 11.7], "reverse": true, "nice": false, "zero": false},
          "axis": {
            "orient": "left", "title": null, "labels": false,
            "values": [-10, -8, -6, -4, -2, 0, 2, 4, 6, 8, 10],
            "tickSize": 3, "tickColor": "#666", "domainColor": "#8a8a8a", "domainWidth": 1, "grid": false
          }
        },
        "detail": {"field": "s"},
        "strokeDash": {
          "field": "s", "type": "nominal",
          "scale": {
            "domain": ["Stim 490ms", "Stim 595ms", "Stim 700ms", "Stim 805ms", "Stim 910ms"],
            "range": [[1.2, 2.4], [2.6, 6], [1, 0], [1.6, 1.6], [1, 2.2]]
          },
          "legend": {
            "title": null, "orient": "none", "legendX": 668, "legendY": 377,
            "symbolType": "stroke", "symbolSize": 900, "symbolStrokeColor": "black",
            "labelFont": "Liberation Sans", "labelFontSize": 17, "labelColor": "black",
            "labelOffset": 11, "rowPadding": 0, "padding": 0
          }
        },
        "strokeWidth": {
          "field": "s", "type": "nominal",
          "scale": {
            "type": "ordinal",
            "domain": ["Stim 490ms", "Stim 595ms", "Stim 700ms", "Stim 805ms", "Stim 910ms"],
            "range": [1.4, 2.8, 2.6, 3.6, 1.4]
          },
          "legend": {
            "title": null, "orient": "none", "legendX": 668, "legendY": 377,
            "symbolType": "stroke", "symbolSize": 900, "symbolStrokeColor": "black",
            "labelFont": "Liberation Sans", "labelFontSize": 17, "labelColor": "black",
            "labelOffset": 11, "rowPadding": 0, "padding": 0
          }
        }
      }
    },
    {
      "data": {"name": "scalebar"},
      "mark": {"type": "rule", "strokeWidth": 1.2},
      "encoding": {
        "x": {"field": "t", "type": "quantitative"},
        "x2": {"field": "t2"},
        "y": {"field": "v", "type": "quantitative"},
        "y2": {"field": "v2"},
        "stroke": {
          "condition": {"test": "datum.part === 'time'", "value": "#666"},
          "value": "#9a9a9a"
        }
      }
    },
    {
      "data": {"name": "scalelabels"},
      "mark": {"type": "text", "align": "left", "baseline": "middle", "font": "Liberation Sans", "fontSize": 17, "color": "black"},
      "encoding": {
        "x": {"field": "t", "type": "quantitative"},
        "y": {"field": "v", "type": "quantitative"},
        "text": {"field": "label"}
      }
    }
  ]
}
